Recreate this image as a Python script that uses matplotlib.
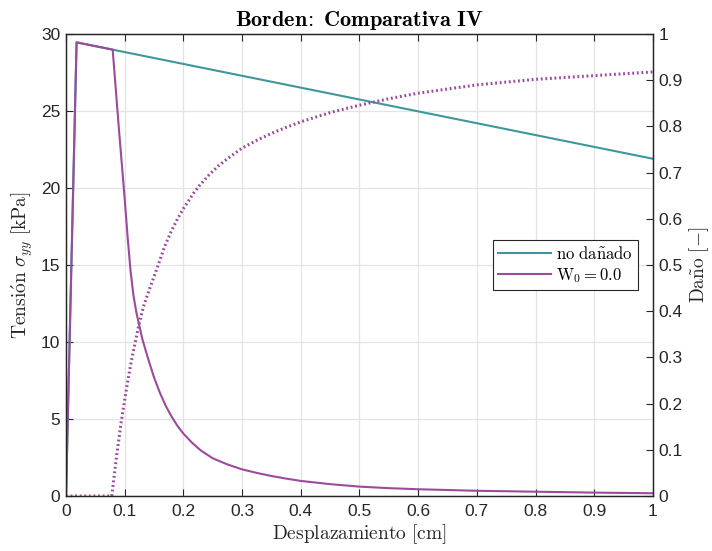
import matplotlib
matplotlib.use("Agg")
import matplotlib.pyplot as plt

plt.rcParams['font.family'] = ['Liberation Sans', 'DejaVu Sans']
plt.rcParams['mathtext.fontset'] = 'cm'

# no dañado
x_und = [0.0, 0.018, 1.0]
s_und = [0.0, 29.46, 21.9]

# W0 = 0.0 (tension)
x_dam = [0.0, 0.018, 0.0795, 0.09, 0.10, 0.105, 0.11, 0.115, 0.12, 0.13, 0.14,
         0.15, 0.16, 0.17, 0.18, 0.19, 0.20, 0.215, 0.23, 0.25, 0.275, 0.30,
         0.325, 0.35, 0.375, 0.40, 0.45, 0.50, 0.55, 0.60, 0.70, 0.80, 0.90, 1.0]
s_dam = [0.0, 29.46, 28.99, 23.9, 19.3, 16.8, 14.6, 13.0, 11.9, 10.2, 8.9,
         7.7, 6.7, 5.85, 5.15, 4.55, 4.05, 3.45, 2.95, 2.45, 2.05, 1.73,
         1.5, 1.3, 1.13, 0.98, 0.77, 0.61, 0.51, 0.44, 0.34, 0.28, 0.22, 0.18]

# W0 = 0.0 (daño)
x_d = [0.0, 0.078, 0.086, 0.094, 0.102, 0.111, 0.124, 0.132, 0.14, 0.15, 0.157,
       0.168, 0.18, 0.19, 0.20, 0.217, 0.228, 0.245, 0.26, 0.28, 0.30, 0.325,
       0.35, 0.375, 0.40, 0.45, 0.50, 0.55, 0.60, 0.70, 0.80, 0.90, 1.0]
d_val = [0.0, 0.0, 0.085, 0.16, 0.225, 0.29, 0.37, 0.41, 0.44, 0.475, 0.50,
         0.54, 0.575, 0.60, 0.622, 0.655, 0.673, 0.697, 0.715, 0.735, 0.753, 0.77,
         0.785, 0.798, 0.81, 0.83, 0.846, 0.86, 0.872, 0.89, 0.902, 0.91, 0.918]

teal = '#3f979b'
purple = '#9b4a9c'
dark = '#262626'

fig = plt.figure(figsize=(7.12, 5.51), dpi=100)
ax = fig.add_axes([0.0927, 0.0998, 0.8244, 0.8384])
ax2 = ax.twinx()

l1, = ax.plot(x_und, s_und, color=teal, lw=1.5, label=r'$\mathrm{no\ da\tilde{n}ado}$')
l2, = ax.plot(x_dam, s_dam, color=purple, lw=1.5, label=r'$\mathrm{W}_0 = 0.0$')
ax2.plot(x_d, d_val, color=purple, lw=2.2, linestyle=(0, (0.6, 0.9)))

ax.set_xlim(0, 1)
ax.set_ylim(0, 30)
ax2.set_ylim(0, 1)
ax.set_xticks([i / 10 for i in range(11)])
ax.set_xticklabels(['0'] + ['%.1f' % (i / 10) for i in range(1, 10)] + ['1'])
ax.set_yticks(range(0, 31, 5))
ax2.set_yticks([i / 10 for i in range(11)])
ax2.set_yticklabels(['0'] + ['%.1f' % (i / 10) for i in range(1, 10)] + ['1'])

ax.grid(True, color='#e3e3e3', lw=0.9)
ax.set_axisbelow(True)

ax.tick_params(axis='x', direction='in', top=True, length=5, colors=dark, labelsize=12.5, pad=6)
ax.tick_params(axis='y', direction='in', length=5, colors=dark, labelsize=12.5, pad=4)
ax2.tick_params(axis='y', direction='in', length=5, colors=dark, labelsize=12.5, pad=4)
for a in (ax, ax2):
    for sp in a.spines.values():
        sp.set_color(dark)
        sp.set_linewidth(0.9)

ax.set_xlabel(r'$\mathrm{Desplazamiento\ [cm]}$', fontsize=14, color=dark, labelpad=2)
ax.set_ylabel(r'$\mathrm{Tensi\acute{o}n}\ \sigma_{yy}\ \mathrm{[kPa]}$', fontsize=14, color=dark, labelpad=4)
ax2.set_ylabel(r'$\mathrm{Da\tilde{n}o}\ [-]$', fontsize=14, color=dark, labelpad=3)
ax.set_title(r'$\mathbf{Borden\!:\ Comparativa\ IV}$', fontsize=16, pad=6)

leg = ax.legend(handles=[l1, l2], loc='center right', bbox_to_anchor=(0.974, 0.5),
                fontsize=12, fancybox=False, edgecolor=dark, framealpha=1,
                handlelength=3.2, borderpad=0.3, labelspacing=0.25, handletextpad=0.3,
                borderaxespad=0)
leg.get_frame().set_linewidth(0.8)

fig.savefig('out.png', dpi=100)
